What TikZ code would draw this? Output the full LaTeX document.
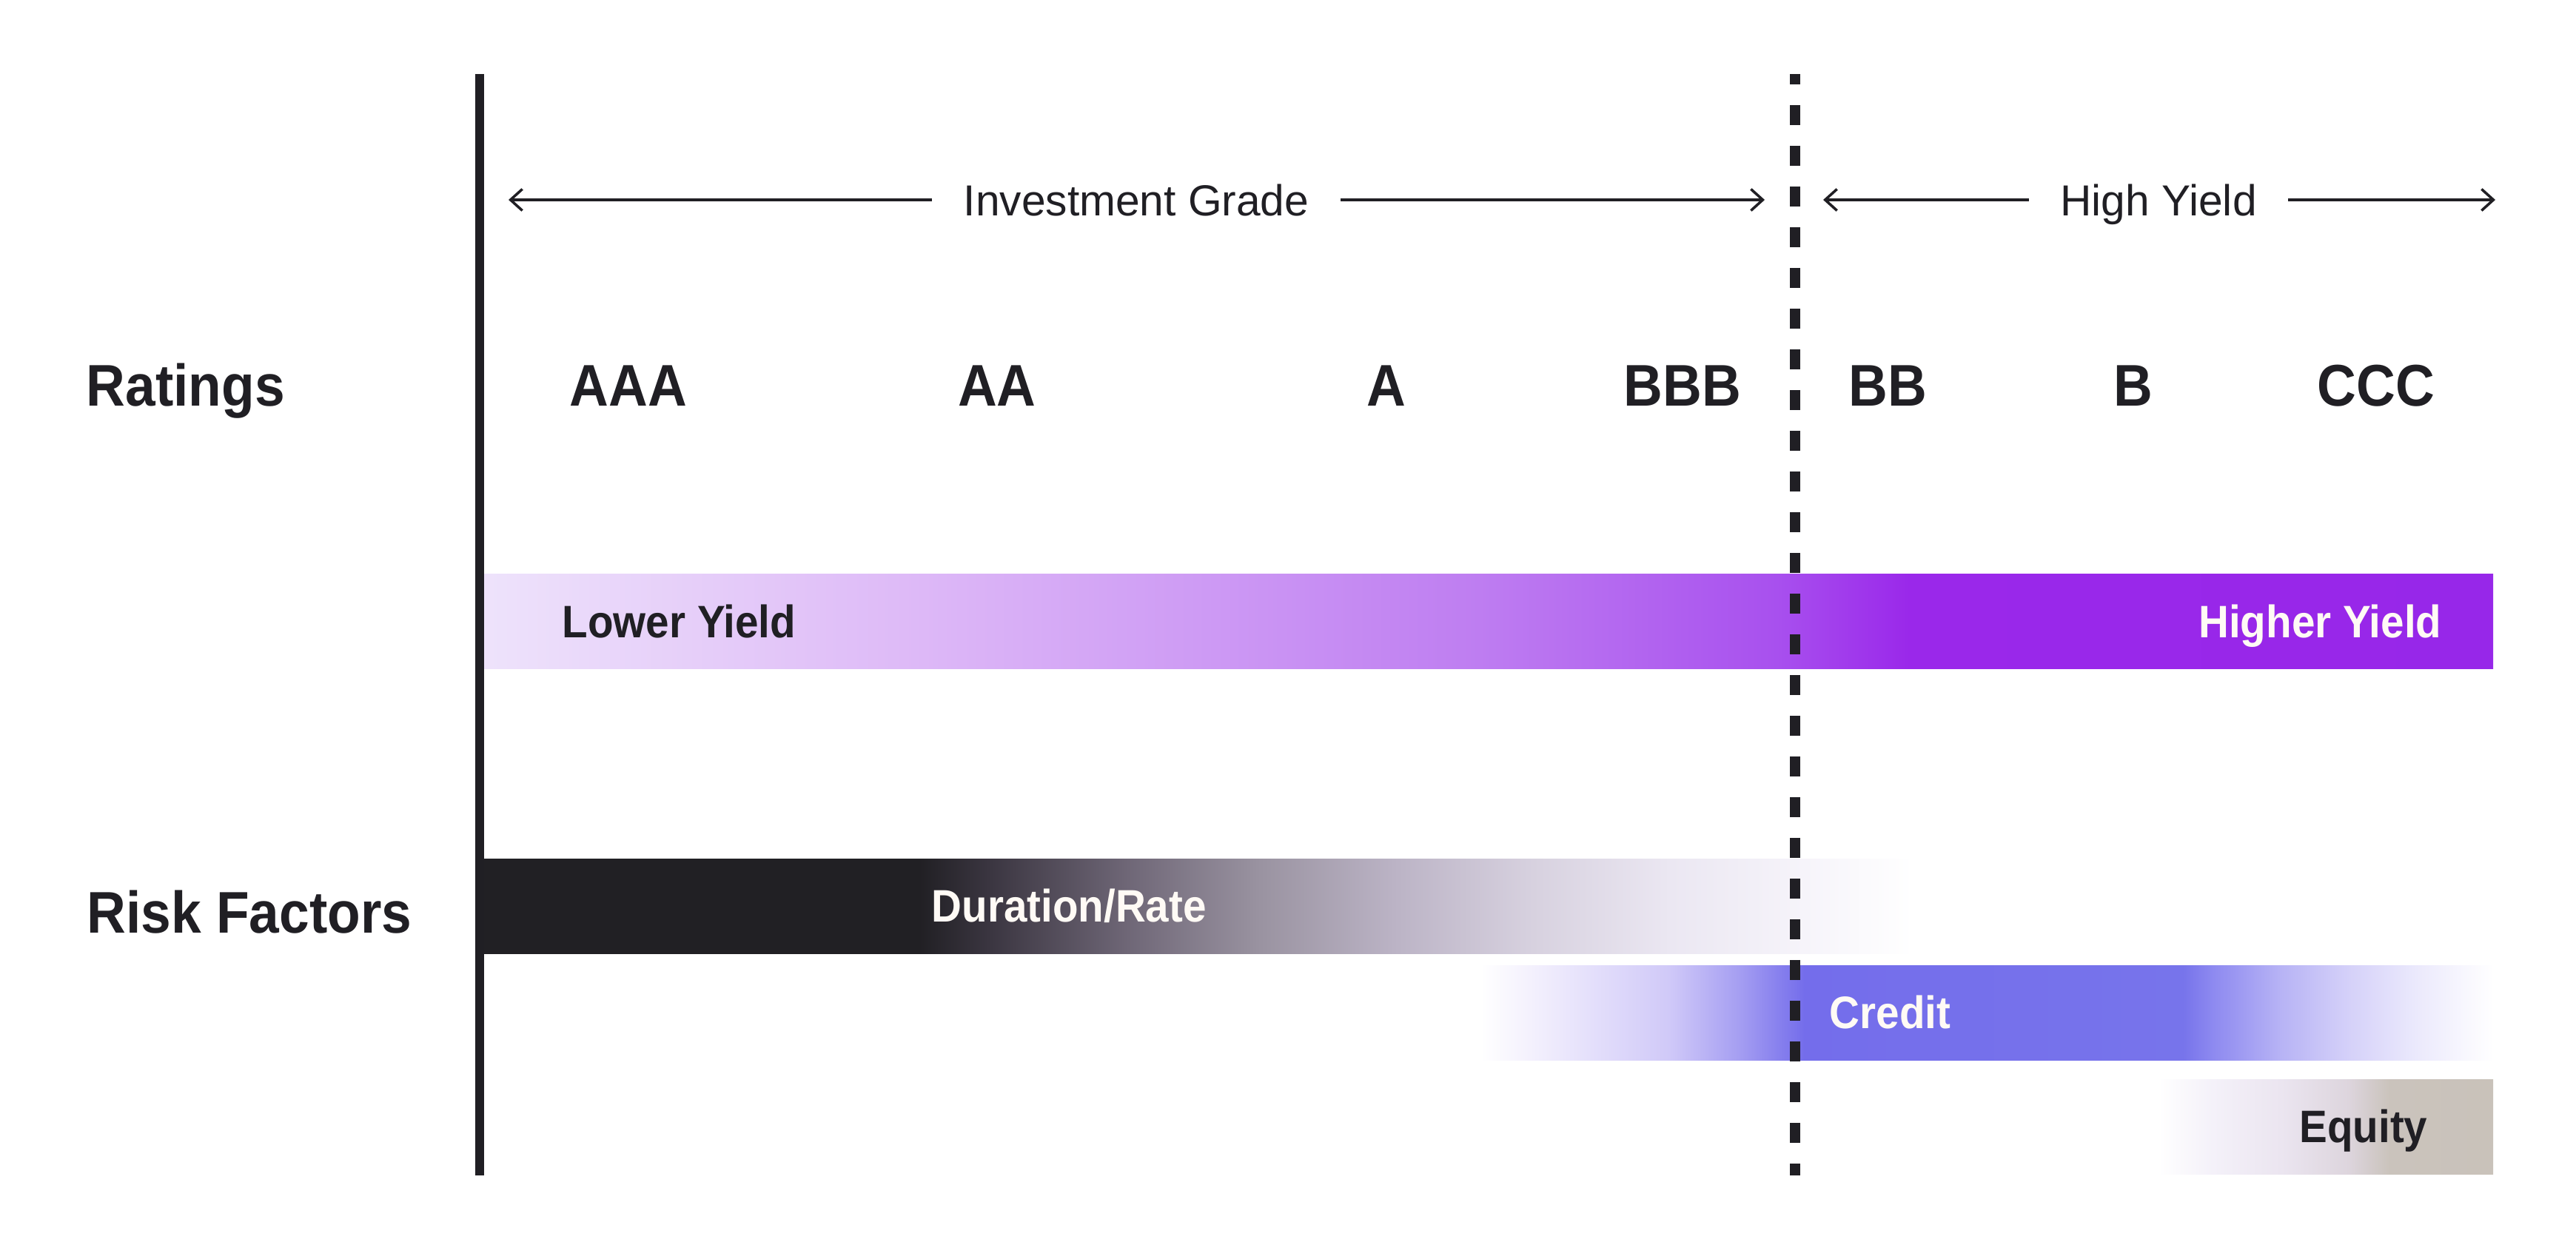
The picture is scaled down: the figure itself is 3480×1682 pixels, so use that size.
\documentclass[tikz,border=0pt]{standalone}
\usepackage{fontspec}
\setmainfont{Liberation Sans}
\newfontfamily\narrowsans[FakeStretch=0.92]{Liberation Sans}
\usetikzlibrary{arrows.meta}
\definecolor{ink}{HTML}{201F24}
\definecolor{cream}{HTML}{FFFAF5}
\definecolor{ylA}{HTML}{EEE3FB}
\definecolor{ylB}{HTML}{DDB8F7}
\definecolor{ylC}{HTML}{BE7DF1}
\definecolor{ylD}{HTML}{A850EE}
\definecolor{ylE}{HTML}{9A28EA}
\definecolor{ylF}{HTML}{9727E9}
\definecolor{drA}{HTML}{212024}
\definecolor{drB}{HTML}{3A3540}
\definecolor{drC}{HTML}{6E6676}
\definecolor{drD}{HTML}{9A93A1}
\definecolor{drE}{HTML}{BCB4C6}
\definecolor{drF}{HTML}{D7D1DF}
\definecolor{drG}{HTML}{EBE7F2}
\definecolor{drH}{HTML}{F6F4FA}
\definecolor{crA}{HTML}{F3F0FD}
\definecolor{crB}{HTML}{D0C9F8}
\definecolor{crC}{HTML}{A69FF2}
\definecolor{crD}{HTML}{746DEB}
\definecolor{crE}{HTML}{7774EB}
\definecolor{crF}{HTML}{8E8AF0}
\definecolor{crG}{HTML}{B7B3F5}
\definecolor{crH}{HTML}{D5D1F9}
\definecolor{crI}{HTML}{EBE9FC}
\definecolor{eqA}{HTML}{F4F1F9}
\definecolor{eqB}{HTML}{EBE5F0}
\definecolor{eqC}{HTML}{DDD5DD}
\definecolor{eqD}{HTML}{CAC3BC}
\definecolor{eqE}{HTML}{C9C2BA}

% 25bp..75bp is stretched over the bar
\pgfdeclarehorizontalshading{yieldshade}{100bp}{color(0bp)=(ylA); color(25bp)=(ylA);
  color(36bp)=(ylB); color(49.8bp)=(ylC); color(57.2bp)=(ylD); color(60.5bp)=(ylE);
  color(75bp)=(ylF); color(100bp)=(ylF)}
\pgfdeclarehorizontalshading{durshade}{100bp}{color(0bp)=(drA); color(25bp)=(drA);
  color(40.3bp)=(drA); color(42.7bp)=(drB); color(47.5bp)=(drC); color(52.2bp)=(drD);
  color(57bp)=(drE); color(61.7bp)=(drF); color(66.5bp)=(drG); color(71.2bp)=(drH);
  color(75bp)=(white); color(100bp)=(white)}
\pgfdeclarehorizontalshading{credshade}{100bp}{color(0bp)=(white); color(25bp)=(white);
  color(27.6bp)=(crA); color(34.3bp)=(crB); color(37.7bp)=(crC); color(41bp)=(crD);
  color(59.7bp)=(crE); color(61.2bp)=(crF); color(64.5bp)=(crG); color(67.9bp)=(crH);
  color(71.2bp)=(crI); color(75bp)=(white); color(100bp)=(white)}
\pgfdeclarehorizontalshading{eqshade}{100bp}{color(0bp)=(white); color(25bp)=(white);
  color(33.1bp)=(eqA); color(43.3bp)=(eqB); color(53.4bp)=(eqC); color(59.5bp)=(eqD);
  color(75bp)=(eqE); color(100bp)=(eqE)}

\begin{document}
\begin{tikzpicture}[x=0.1mm, y=-0.1mm,
  rating/.style={font=\narrowsans\bfseries\fontsize{22.6}{27}\selectfont, text=ink,
    inner sep=0pt, text height=16.2pt, text depth=0pt},
  barlabel/.style={font=\narrowsans\bfseries\fontsize{17.5}{21}\selectfont,
    inner sep=0pt, text height=12.5pt, text depth=0pt},
  grade/.style={font=\fontsize{16.7}{20}\selectfont, text=ink, inner xsep=4.2mm,
    inner ysep=0pt, text height=12pt, text depth=0pt},
  span/.style={-{Straight Barb[length=1.6mm,width=2.9mm]}, line width=1pt, ink}]
\fill[white] (0,0) rectangle (3480,1682);

\shade[shading=yieldshade] (650,776) rectangle (3368,904);
\shade[shading=durshade] (650,1160) rectangle (2585,1288);
\shade[shading=credshade] (2000,1304) rectangle (3368,1432);
\shade[shading=eqshade] (2916,1458) rectangle (3368,1586);

\draw[ink, line width=1.2mm] (648,100) -- (648,1588);
\draw[ink, line width=1.4mm, dash pattern=on 2.7mm off 2.8mm, dash phase=1.3mm]
  (2425,100) -- (2425,1588);

\node[rating, anchor=west] (rat) at (116,520) {Ratings};
\node[rating, anchor=west] (risk) at (117,1232) {Risk Factors};
\node[rating] (aaa) at (849,520) {AAA};
\node[rating] (aa) at (1347,520) {AA};
\node[rating] (a) at (1873,520) {A};
\node[rating] (bbb) at (2273,520) {BBB};
\node[rating] (bb) at (2550,520) {BB};
\node[rating] (b) at (2882,520) {B};
\node[rating] (ccc) at (3210,520) {CCC};

\node[barlabel, text=ink, anchor=west] (low) at (759,840) {Lower Yield};
\node[barlabel, text=cream, anchor=east] (high) at (3299,840) {Higher Yield};
\node[barlabel, text=cream, anchor=west] (dur) at (1258,1224) {Duration/Rate};
\node[barlabel, text=cream, anchor=west] (cred) at (2471,1368) {Credit};
\node[barlabel, text=ink, anchor=east] (eq) at (3280,1522) {Equity};

\node[grade] (ig) at (1535,270) {Investment Grade};
\coordinate (igl) at (687,270);
\coordinate (igr) at (2384,270);
\draw[span] (ig) -- (igl);
\draw[span] (ig) -- (igr);

\node[grade] (hy) at (2916,270) {High Yield};
\coordinate (hyl) at (2463,270);
\coordinate (hyr) at (3371,270);
\draw[span] (hy) -- (hyl);
\draw[span] (hy) -- (hyr);
\end{tikzpicture}
\end{document}
